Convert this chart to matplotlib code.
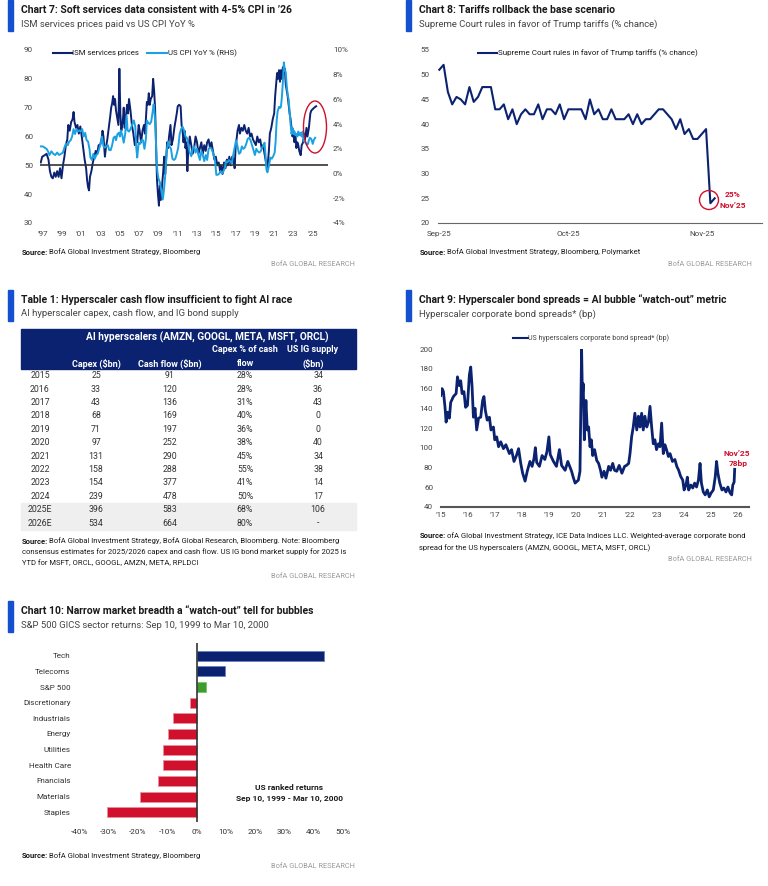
import matplotlib
matplotlib.use("Agg")
import matplotlib.pyplot as plt
from matplotlib import font_manager
from matplotlib.patches import Rectangle, Ellipse, Circle

# ---------------- data ----------------
# Chart 7: ISM services prices paid (LHS) and US CPI YoY % (RHS)
ism_years = [1996.8, 1996.95, 1997.2, 1997.4, 1997.6, 1997.75, 1997.9, 1998.05, 1998.2, 1998.35,
             1998.5, 1998.65, 1998.8, 1998.95, 1999.1, 1999.25, 1999.4, 1999.55, 1999.65, 1999.8,
             1999.95, 2000.1, 2000.2, 2000.3, 2000.45, 2000.6, 2000.75, 2000.9, 2001.05, 2001.2,
             2001.35, 2001.5, 2001.6, 2001.7, 2001.8, 2001.9, 2002.05, 2002.2, 2002.35, 2002.5,
             2002.65, 2002.8, 2002.95, 2003.1, 2003.2, 2003.3, 2003.45, 2003.55, 2003.7, 2003.85,
             2004.0, 2004.1, 2004.2, 2004.3, 2004.4, 2004.5, 2004.6, 2004.75, 2004.85, 2004.95,
             2005.05, 2005.15, 2005.3, 2005.4, 2005.5, 2005.6, 2005.75, 2005.85, 2005.95, 2006.1,
             2006.25, 2006.4, 2006.55, 2006.7, 2006.8, 2006.95, 2007.05, 2007.2, 2007.35, 2007.5,
             2007.6, 2007.7, 2007.8, 2007.9, 2008.0, 2008.1, 2008.2, 2008.35, 2008.45, 2008.55,
             2008.65, 2008.75, 2008.85, 2008.95, 2009.05, 2009.15, 2009.25, 2009.4, 2009.5, 2009.6,
             2009.7, 2009.8, 2009.9, 2010.0, 2010.1, 2010.25, 2010.35, 2010.5, 2010.65, 2010.8,
             2010.9, 2011.0, 2011.15, 2011.3, 2011.4, 2011.5, 2011.6, 2011.7, 2011.8, 2011.9,
             2012.0, 2012.1, 2012.25, 2012.4, 2012.55, 2012.7, 2012.85, 2013.0, 2013.15, 2013.3,
             2013.45, 2013.6, 2013.75, 2013.9, 2014.05, 2014.2, 2014.35, 2014.5, 2014.65, 2014.8,
             2014.95, 2015.1, 2015.25, 2015.4, 2015.5, 2015.65, 2015.8, 2015.95, 2016.1, 2016.2,
             2016.35, 2016.5, 2016.65, 2016.8, 2016.9, 2017.0, 2017.1, 2017.2, 2017.35, 2017.45,
             2017.6, 2017.75, 2017.9, 2018.05, 2018.2, 2018.35, 2018.5, 2018.65, 2018.8, 2018.95,
             2019.1, 2019.25, 2019.4, 2019.55, 2019.7, 2019.85, 2019.95, 2020.1, 2020.2, 2020.3,
             2020.45, 2020.55, 2020.7, 2020.85, 2021.0, 2021.1, 2021.2, 2021.3, 2021.4, 2021.5,
             2021.6, 2021.7, 2021.8, 2021.9, 2022.0, 2022.1, 2022.2, 2022.3, 2022.4, 2022.5,
             2022.6, 2022.7, 2022.8, 2022.9, 2023.0, 2023.1, 2023.2, 2023.3, 2023.4, 2023.5,
             2023.6, 2023.75, 2023.85, 2024.0, 2024.1, 2024.2, 2024.35, 2024.45, 2024.6, 2024.75,
             2024.85, 2025.0, 2025.15, 2025.35]
ism_vals = [51, 53, 53.5, 54, 52, 48, 46, 45.5, 47.5, 46,
            48, 46, 49, 45.5, 50, 53, 57, 59, 64, 62,
            65, 66, 68.5, 65, 63, 64, 61, 63.5, 60, 56,
            52, 49, 45, 42.5, 41.3, 46, 48, 51, 53, 55,
            54, 57, 57, 59, 62, 60, 53, 56, 59, 63,
            67, 70, 71.5, 74, 71, 73, 69, 66, 64, 83.5,
            68, 62, 65, 70, 63, 66, 71, 68, 73, 69,
            64, 61, 57, 60, 58, 64, 62, 58, 62, 64,
            61, 66, 72, 71, 75, 71, 73, 74, 80, 76,
            70, 58, 45, 40, 36, 43, 38, 44, 48, 53,
            47, 52, 58, 56, 60, 64, 57, 59, 63, 66,
            68, 70.5, 71, 70.5, 64, 62, 58, 62, 56, 58,
            48, 56, 60, 57, 54, 56, 60, 58, 54, 56,
            58, 54, 57, 55, 58, 59, 56, 58, 55, 52,
            53, 50, 51, 48, 50, 47, 51, 49, 52, 50,
            53, 50, 53, 52, 49, 56, 59, 62, 64, 61,
            63, 62, 64, 62, 61, 63, 60, 61, 59, 58,
            57, 60, 58, 59, 56, 57, 55, 52, 50, 49,
            55, 61, 63, 66, 68, 74, 78, 82, 80, 83,
            79, 83, 80, 84, 82, 83.5, 78, 76, 74, 71,
            68, 66, 63, 60, 62, 58, 61, 56, 58, 57,
            55, 53.5, 57, 58, 61, 59, 63, 60, 63, 68,
            69, 69.5, 70, 70.5]

cpi_years = [1996.8, 1997.0, 1997.2, 1997.4, 1997.55, 1997.7, 1997.9, 1998.1, 1998.3, 1998.5,
             1998.7, 1998.9, 1999.1, 1999.25, 1999.4, 1999.6, 1999.75, 1999.9, 2000.05, 2000.2,
             2000.35, 2000.5, 2000.65, 2000.8, 2000.95, 2001.1, 2001.25, 2001.4, 2001.55, 2001.7,
             2001.85, 2001.95, 2002.1, 2002.25, 2002.4, 2002.55, 2002.7, 2002.85, 2003.0, 2003.15,
             2003.3, 2003.45, 2003.6, 2003.75, 2003.9, 2004.05, 2004.2, 2004.35, 2004.5, 2004.6,
             2004.75, 2004.9, 2005.0, 2005.1, 2005.25, 2005.4, 2005.55, 2005.7, 2005.8, 2005.95,
             2006.1, 2006.3, 2006.45, 2006.6, 2006.7, 2006.8, 2006.95, 2007.1, 2007.25, 2007.4,
             2007.55, 2007.7, 2007.8, 2007.95, 2008.1, 2008.25, 2008.4, 2008.5, 2008.6, 2008.7,
             2008.8, 2008.9, 2009.0, 2009.15, 2009.3, 2009.45, 2009.55, 2009.7, 2009.85, 2010.0,
             2010.15, 2010.3, 2010.45, 2010.6, 2010.75, 2010.9, 2011.05, 2011.2, 2011.35, 2011.5,
             2011.65, 2011.8, 2011.95, 2012.1, 2012.25, 2012.4, 2012.55, 2012.7, 2012.85, 2013.0,
             2013.15, 2013.3, 2013.45, 2013.6, 2013.75, 2013.9, 2014.05, 2014.2, 2014.35, 2014.5,
             2014.65, 2014.8, 2014.9, 2015.0, 2015.15, 2015.3, 2015.45, 2015.6, 2015.75, 2015.9,
             2016.0, 2016.15, 2016.3, 2016.45, 2016.6, 2016.75, 2016.9, 2017.05, 2017.2, 2017.35,
             2017.5, 2017.65, 2017.8, 2017.95, 2018.1, 2018.25, 2018.4, 2018.55, 2018.7, 2018.85,
             2019.0, 2019.15, 2019.3, 2019.45, 2019.6, 2019.75, 2019.9, 2020.0, 2020.1, 2020.2,
             2020.3, 2020.45, 2020.6, 2020.75, 2020.9, 2021.05, 2021.15, 2021.25, 2021.35, 2021.5,
             2021.6, 2021.7, 2021.8, 2021.9, 2022.0, 2022.1, 2022.2, 2022.3, 2022.4, 2022.5,
             2022.6, 2022.7, 2022.8, 2022.9, 2023.0, 2023.1, 2023.2, 2023.3, 2023.4, 2023.5,
             2023.6, 2023.75, 2023.85, 2023.95, 2024.1, 2024.25, 2024.4, 2024.5, 2024.6, 2024.7,
             2024.85, 2025.0, 2025.1, 2025.25]
cpi_vals = [2.2, 2.2, 2.1, 2.0, 1.8, 1.5, 1.8, 1.6, 1.5, 1.7,
            1.5, 1.6, 1.7, 2.1, 2.4, 2.3, 2.6, 2.7, 3.0, 3.6,
            3.2, 3.6, 3.4, 3.5, 3.4, 3.6, 3.0, 3.3, 2.7, 2.6,
            2.0, 1.3, 1.1, 1.6, 1.2, 1.5, 1.6, 2.0, 2.4, 3.0,
            2.2, 2.1, 2.2, 2.3, 1.9, 1.9, 2.3, 2.9, 3.0, 2.7,
            3.2, 3.3, 3.0, 3.5, 3.1, 2.5, 3.2, 4.7, 3.5, 3.4,
            3.6, 4.0, 4.3, 3.8, 2.1, 1.3, 2.5, 2.4, 2.7, 2.7,
            2.0, 2.8, 4.3, 4.1, 4.0, 4.2, 5.0, 5.6, 4.9, 3.7,
            1.1, 0.1, -0.4, -0.7, -1.4, -2.1, -1.5, -0.2, 1.8, 2.6,
            2.2, 2.0, 1.2, 1.1, 1.2, 1.6, 2.1, 3.2, 3.6, 3.8,
            3.5, 3.0, 2.9, 2.3, 1.7, 1.4, 2.0, 2.2, 1.7, 2.0,
            1.5, 1.1, 1.8, 1.5, 1.0, 1.5, 1.1, 2.0, 2.1, 2.0,
            1.7, 1.3, 0.8, -0.1, -0.1, 0.0, 0.2, 0.0, 0.2, 0.5,
            1.0, 0.9, 1.1, 1.0, 0.8, 1.5, 2.1, 2.7, 2.2, 1.6,
            1.7, 2.2, 2.0, 2.1, 2.4, 2.8, 2.9, 2.7, 2.3, 1.9,
            1.5, 2.0, 1.8, 1.7, 1.8, 2.1, 2.3, 2.5, 1.5, 0.3,
            0.1, 0.6, 1.3, 1.2, 1.4, 1.7, 2.6, 4.2, 5.0, 5.4,
            5.3, 5.4, 6.2, 7.4, 9.0, 8.4, 8.2, 7.1, 6.4, 6.0,
            5.0, 4.0, 3.2, 3.7, 3.2, 3.4, 3.1, 3.2, 3.0, 3.4,
            3.1, 3.3, 3.0, 3.4, 2.6, 2.5, 2.3, 2.4, 2.7, 2.9,
            2.8, 2.4, 2.7, 2.9]

# Chart 8: Supreme Court rules in favor of Trump tariffs (% chance), daily from 1 Sep 2025
court_days = list(range(65))
court_vals = [51, 52, 46.5, 44, 45.5, 45, 44, 47.5, 44.5, 45.5,
              47.5, 47.5, 47.5, 43, 43, 44, 41, 43, 40, 42,
              43, 42, 42, 44, 41, 43, 43, 42, 44, 41,
              43, 43, 43, 43, 41, 45, 42, 43, 41, 41,
              43, 41, 41, 41, 42, 40, 42, 40, 41, 41,
              42, 43, 43, 42, 41, 39, 41, 38, 39, 37,
              37, 38, 39, 24, 25]
court_ticks = [0, 30, 61]
court_ticklabels = ["Sep-25", "Oct-25", "Nov-25"]

# Table 1
tbl_years = ["2015", "2016", "2017", "2018", "2019", "2020", "2021", "2022", "2023", "2024", "2025E", "2026E"]
tbl_capex = [25, 33, 43, 68, 71, 97, 131, 158, 154, 239, 396, 534]
tbl_cash = [91, 120, 136, 169, 197, 252, 290, 288, 377, 478, 583, 664]
tbl_pct = [28, 28, 31, 40, 36, 38, 45, 55, 41, 50, 68, 80]
tbl_ig = ["34", "36", "43", "0", "0", "40", "34", "38", "14", "17", "106", "-"]

# Chart 9: US hyperscalers corporate bond spread (bp)
spread_years = [2015.0, 2015.05, 2015.1, 2015.16, 2015.2, 2015.25, 2015.32, 2015.37, 2015.47, 2015.57,
                2015.62, 2015.69, 2015.74, 2015.79, 2015.86, 2015.92, 2015.99, 2016.06, 2016.11, 2016.16,
                2016.21, 2016.27, 2016.33, 2016.4, 2016.48, 2016.55, 2016.6, 2016.65, 2016.72, 2016.8,
                2016.86, 2016.95, 2017.0, 2017.07, 2017.14, 2017.22, 2017.32, 2017.41, 2017.54, 2017.62,
                2017.71, 2017.8, 2017.88, 2017.96, 2018.03, 2018.12, 2018.2, 2018.3, 2018.38, 2018.45,
                2018.5, 2018.55, 2018.65, 2018.75, 2018.85, 2018.93, 2019.0, 2019.05, 2019.17, 2019.28,
                2019.39, 2019.47, 2019.6, 2019.7, 2019.84, 2019.9, 2019.97, 2020.09, 2020.15, 2020.21,
                2020.24, 2020.27, 2020.31, 2020.37, 2020.42, 2020.47, 2020.52, 2020.57, 2020.62, 2020.69,
                2020.77, 2020.84, 2020.91, 2020.96, 2021.04, 2021.11, 2021.21, 2021.28, 2021.36, 2021.43,
                2021.51, 2021.6, 2021.7, 2021.8, 2021.87, 2021.95, 2022.0, 2022.06, 2022.12, 2022.18,
                2022.25, 2022.31, 2022.37, 2022.43, 2022.49, 2022.55, 2022.62, 2022.68, 2022.74, 2022.8,
                2022.86, 2022.92, 2022.98, 2023.05, 2023.11, 2023.17, 2023.23, 2023.29, 2023.35, 2023.42,
                2023.48, 2023.57, 2023.66, 2023.73, 2023.8, 2023.87, 2023.95, 2024.0, 2024.07, 2024.12,
                2024.17, 2024.25, 2024.32, 2024.39, 2024.46, 2024.53, 2024.59, 2024.64, 2024.71, 2024.78,
                2024.86, 2024.93, 2025.0, 2025.08, 2025.15, 2025.2, 2025.25, 2025.32, 2025.4, 2025.47,
                2025.55, 2025.62, 2025.7, 2025.76, 2025.8, 2025.85, 2025.87]
spread_vals = [153, 160, 157, 141, 126, 136, 130, 146, 152, 155,
               172, 163, 168, 155, 157, 141, 143, 174, 182, 162,
               131, 140, 118, 130, 131, 148, 152, 138, 128, 131,
               118, 121, 108, 111, 101, 106, 99, 103, 94, 98,
               86, 92, 99, 84, 74, 66, 76, 86, 81, 89,
               100, 85, 81, 92, 88, 96, 111, 93, 86, 81,
               98, 82, 77, 86, 76, 70, 64, 67, 76, 200,
               152, 165, 108, 148, 118, 121, 101, 108, 92, 98,
               87, 84, 77, 70, 76, 69, 81, 77, 84, 77,
               76, 82, 74, 81, 82, 84, 94, 111, 121, 135,
               118, 132, 121, 135, 118, 132, 121, 126, 142, 121,
               104, 108, 98, 104, 101, 125, 94, 103, 98, 91,
               94, 86, 88, 81, 77, 71, 67, 57, 62, 70,
               57, 62, 59, 64, 60, 67, 84, 64, 55, 52,
               57, 50, 54, 57, 70, 86, 74, 64, 57, 59,
               55, 60, 54, 52, 62, 65, 78]

# Chart 10: S&P 500 GICS sector returns, Sep 10 1999 - Mar 10 2000 (%)
sectors = ["Tech", "Telecoms", "S&P 500", "Discretionary", "Industrials", "Energy",
           "Utilities", "Health Care", "Fnancials", "Materials", "Staples"]
sector_ret = [43.6, 9.8, 3.2, -2.4, -8.0, -9.7, -11.4, -11.4, -13.3, -19.2, -30.5]

# ---------------- style ----------------
W, H = 768, 886
names = {f.name for f in font_manager.fontManager.ttflist}
if "Liberation Sans Narrow" in names:
    plt.rcParams["font.family"] = ["Liberation Sans Narrow", "DejaVu Sans"]
else:
    plt.rcParams["font.family"] = ["Roboto", "DejaVu Sans"]

NAVY = "#0b2270"
LBLUE = "#1ba1e2"
RED = "#d0102c"
GREEN = "#3c9c2c"
BAR_BLUE = "#1450d0"
TXT = "#1a1a1a"
SUB = "#444444"
TICK = "#444444"

FS_TITLE = 7.5
FS_SUB = 6.8
FS_TICK = 5.8
FS_SRC = 5.5

fig = plt.figure(figsize=(W / 100, H / 100), dpi=100)
fig.patch.set_facecolor("white")


def add_ax(x0, y0, x1, y1):
    return fig.add_axes([x0 / W, 1 - y1 / H, (x1 - x0) / W, (y1 - y0) / H])


def clean(ax):
    for s in ax.spines.values():
        s.set_visible(False)
    ax.tick_params(length=0, labelsize=FS_TICK, colors=TICK)
    ax.set_facecolor("none")


# overlay axes in pixel coordinates for titles, table and notes
bg = fig.add_axes([0, 0, 1, 1], zorder=10)
bg.set_xlim(0, W)
bg.set_ylim(H, 0)
bg.axis("off")
bg.patch.set_alpha(0)


def header(x, y0, title, subtitle):
    bg.add_patch(Rectangle((x - 13, y0), 4.5, 31, color=BAR_BLUE))
    bg.text(x, y0 + 10, title, fontsize=FS_TITLE, weight="bold", color=TXT, va="center")
    bg.text(x, y0 + 24, subtitle, fontsize=FS_SUB, color=SUB, va="center")


def source(x, y, first, more=(), gap=11.5):
    r = fig.canvas.get_renderer()
    t = bg.text(x, y, "Source:", fontsize=FS_SRC, weight="bold", color=TXT, va="center")
    w = t.get_window_extent(renderer=r).width
    bg.text(x + w + 1.5, y, first, fontsize=FS_SRC, color=TXT, va="center")
    for i, line in enumerate(more):
        bg.text(x, y + gap * (i + 1), line, fontsize=FS_SRC, color=TXT, va="center")


def brand(x, y):
    bg.text(x, y, "BofA GLOBAL RESEARCH", fontsize=5.3, color="#9a9a9a", va="center", ha="right")


# ---------------- Chart 7 ----------------
header(21, 0, "Chart 7: Soft services data consistent with 4-5% CPI in \u201926",
       "ISM services prices paid vs US CPI YoY %")
ax7 = add_ax(40, 50, 328, 223)
clean(ax7)
ax7.plot(ism_years, ism_vals, color=NAVY, lw=1.4)
ax7.axhline(50, color="#333333", lw=1.2)
ax7.set_xlim(1996.72, 2026.58)
ax7.set_ylim(30, 90)
ax7.set_yticks(range(30, 91, 10))
ax7.set_xticks(range(1997, 2026, 2))
ax7.set_xticklabels(["\u2019%02d" % (y % 100) for y in range(1997, 2026, 2)])
ax7.tick_params(axis="y", pad=5)
ax7.tick_params(axis="x", pad=6)
ax7b = ax7.twinx()
clean(ax7b)
ax7b.plot(cpi_years, cpi_vals, color=LBLUE, lw=1.4)
ax7b.set_ylim(-4, 10)
ax7b.set_yticks(range(-4, 11, 2))
ax7b.set_yticklabels(["%d%%" % v for v in range(-4, 11, 2)])
ax7b.tick_params(axis="y", pad=3.5)
bg.plot([53, 72], [52.7, 52.7], color=NAVY, lw=1.5)
bg.text(72.5, 52.7, "ISM services prices", fontsize=5.6, color=TXT, va="center")
bg.plot([147, 167], [52.7, 52.7], color=LBLUE, lw=1.5)
bg.text(167.5, 52.7, "US CPI YoY % (RHS)", fontsize=5.6, color=TXT, va="center")
bg.add_patch(Ellipse((315, 127), 23, 52, fill=False, ec=RED, lw=1))
source(21.7, 252, "BofA Global Investment Strategy, Bloomberg")
brand(355, 264)

# ---------------- Chart 8 ----------------
header(419, 0, "Chart 8: Tariffs rollback the base scenario",
       "Supreme Court rules in favor of Trump tariffs (% chance)")
ax8 = add_ax(438, 50, 762, 223)
clean(ax8)
ax8.spines["bottom"].set_visible(True)
ax8.spines["bottom"].set_color("#666666")
ax8.plot(court_days, court_vals, color=NAVY, lw=1.5)
ax8.set_xlim(-0.3, 75)
ax8.set_ylim(20, 55)
ax8.set_yticks(range(20, 56, 5))
ax8.set_xticks(court_ticks)
ax8.set_xticklabels(court_ticklabels)
ax8.tick_params(axis="y", pad=6)
ax8.tick_params(axis="x", pad=6)
bg.plot([478, 497], [53, 53], color=NAVY, lw=1.5)
bg.text(497.5, 53, "Supreme Court rules in favor of Trump tariffs (% chance)",
        fontsize=5.8, color=TXT, va="center")
bg.add_patch(Circle((709, 200), 9.5, fill=False, ec=RED, lw=1))
bg.text(733, 194, "25%", fontsize=6, weight="bold", color=RED, ha="center", va="center")
bg.text(733, 205, "Nov\u201925", fontsize=6, weight="bold", color=RED, ha="center", va="center")
source(419.3, 252, "BofA Global Investment Strategy, Bloomberg, Polymarket")
brand(752, 264)

# ---------------- Table 1 ----------------
header(21, 290, "Table 1: Hyperscaler cash flow insufficient to fight AI race",
       "AI hyperscaler capex, cash flow, and IG bond supply")
bg.add_patch(Rectangle((21, 329), 335, 40, color=NAVY, zorder=1))
hdr = dict(fontsize=6.5, weight="bold", color="white", ha="center", va="center", zorder=2)
bg.text(207, 337.5, "AI hyperscalers (AMZN, GOOGL, META, MSFT, ORCL)", **dict(hdr, fontsize=7.3))
bg.text(245, 350, "Capex % of cash", **hdr)
bg.text(313, 350, "US IG supply", **hdr)
bg.text(96, 364, "Capex ($bn)", **hdr)
bg.text(170, 364, "Cash flow ($bn)", **hdr)
bg.text(245, 364, "flow", **hdr)
bg.text(313, 364, "($bn)", **hdr)
bg.add_patch(Rectangle((21, 503), 335, 27, color="#efefef", zorder=1))
cell = dict(fontsize=6.3, color="#333333", ha="center", va="center", zorder=2)
for i, yr in enumerate(tbl_years):
    yy = 375.7 + i * 13.4
    bg.text(40, yy, yr, **cell)
    bg.text(96, yy, str(tbl_capex[i]), **cell)
    bg.text(170, yy, str(tbl_cash[i]), **cell)
    bg.text(245, yy, "%d%%" % tbl_pct[i], **cell)
    bg.text(318, yy, tbl_ig[i], **cell)
source(21.7, 541, "BofA Global Investment Strategy, BofA Global Research, Bloomberg. Note: Bloomberg",
       ["consensus estimates for 2025/2026 capex and cash flow. US IG bond market supply for 2025 is",
        "YTD for MSFT, ORCL, GOOGL, AMZN, META, RPLDCI"], gap=11)
brand(355, 576)

# ---------------- Chart 9 ----------------
header(419, 290, "Chart 9: Hyperscaler bond spreads = AI bubble \u201cwatch-out\u201d metric",
       "Hyperscaler corporate bond spreads* (bp)")
ax9 = add_ax(440.7, 349.3, 749, 506.7)
clean(ax9)
ax9.spines["bottom"].set_visible(True)
ax9.spines["bottom"].set_color("#555555")
ax9.spines["bottom"].set_linewidth(1.5)
ax9.plot(spread_years, spread_vals, color=NAVY, lw=2.0)
ax9.set_xlim(2015.0, 2026.4)
ax9.set_ylim(40, 200)
ax9.set_yticks(range(40, 201, 20))
ax9.set_xticks(range(2015, 2027))
ax9.set_xticklabels(["\u2019%02d" % (y % 100) for y in range(2015, 2027)])
ax9.tick_params(axis="y", pad=5.5)
ax9.tick_params(axis="x", pad=4)
bg.plot([513, 528], [337.7, 337.7], color=NAVY, lw=1.5)
bg.text(528.5, 337.7, "US hyperscalers corporate bond spread* (bp)", fontsize=5.0, color=SUB, va="center")
bg.text(737, 453, "Nov\u201925", fontsize=6, weight="bold", color=RED, ha="center", va="center")
bg.text(738, 463, "78bp", fontsize=6, weight="bold", color=RED, ha="center", va="center")
source(419.3, 535.7, "ofA Global Investment Strategy, ICE Data Indices LLC. Weighted-average corporate bond",
       ["spread for the US hyperscalers (AMZN, GOOGL, META, MSFT, ORCL)"], gap=12.6)
brand(752, 559.3)

# ---------------- Chart 10 ----------------
header(21, 601, "Chart 10: Narrow market breadth a \u201cwatch-out\u201d tell for bubbles",
       "S&P 500 GICS sector returns: Sep 10, 1999 to Mar 10, 2000")
ax10 = add_ax(75, 643, 350, 822)
clean(ax10)
bar_colors = [NAVY, NAVY, GREEN] + [RED] * (len(sectors) - 3)
edge_colors = ["#6a82c0", "#6a82c0", "#7cc46e"] + ["#e8909c"] * (len(sectors) - 3)
ax10.barh(range(len(sectors)), sector_ret, height=0.64, color=bar_colors,
          edgecolor=edge_colors, linewidth=0.6)
ax10.axvline(0, color="#333333", lw=1.2)
ax10.set_ylim(10.62, -0.81)
ax10.set_xlim(-41.5, 52.4)
ax10.set_yticks(range(len(sectors)))
ax10.set_yticklabels(sectors)
ax10.set_xticks(range(-40, 51, 10))
ax10.set_xticklabels(["%d%%" % v for v in range(-40, 51, 10)])
ax10.tick_params(axis="y", pad=3, colors="#333333", labelsize=5.9)
ax10.tick_params(axis="x", pad=5, colors="#333333", labelsize=5.9)
bg.text(289, 788, "US ranked returns", fontsize=6, weight="bold", color=TXT, ha="center", va="center")
bg.text(289, 799, "Sep 10, 1999 - Mar 10, 2000", fontsize=6, weight="bold", color=TXT,
        ha="center", va="center")
source(21.7, 856, "BofA Global Investment Strategy, Bloomberg")
brand(355, 867)

fig.savefig("out.png", dpi=100)
